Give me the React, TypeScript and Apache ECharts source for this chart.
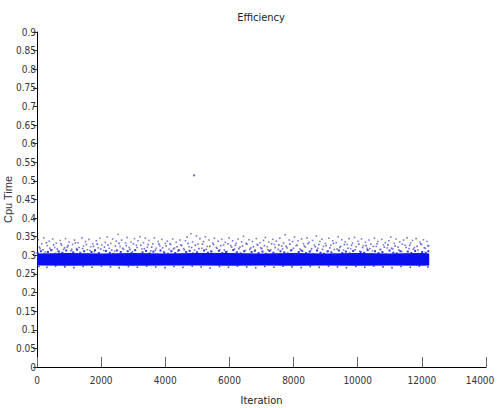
import React, { useEffect, useRef } from "react";
import * as echarts from "echarts";

const xTicks = [0, 2000, 4000, 6000, 8000, 10000, 12000, 14000];
const yTicks = [0, 0.05, 0.1, 0.15, 0.2, 0.25, 0.3, 0.35, 0.4, 0.45, 0.5, 0.55, 0.6, 0.65, 0.7, 0.75, 0.8, 0.85, 0.9];

// dense core band (bounds)
const bandX = [0, 1000, 2000, 3000, 4000, 5000, 6000, 7000, 8000, 9000, 10000, 11000, 12000, 12230];
const bandLow = [0.273, 0.272, 0.273, 0.272, 0.273, 0.273, 0.272, 0.273, 0.272, 0.273, 0.272, 0.273, 0.272, 0.273];
const bandHigh = [0.305, 0.306, 0.305, 0.306, 0.305, 0.306, 0.306, 0.305, 0.306, 0.305, 0.306, 0.305, 0.306, 0.305];

const upperPoints: [number, number][] = [
  [40,0.342],[95,0.318],[150,0.331],[210,0.347],[260,0.309],[320,0.326],[380,0.338],[430,0.314],[490,0.344],[550,0.321],
  [600,0.333],[660,0.311],[720,0.340],[770,0.327],[830,0.316],[890,0.345],[940,0.322],[1000,0.336],[1060,0.312],[1110,0.329],
  [1170,0.341],[1230,0.318],[1280,0.334],[1340,0.308],[1400,0.347],[1450,0.325],[1510,0.337],[1570,0.315],[1620,0.343],[1680,0.323],
  [1740,0.331],[1790,0.310],[1850,0.339],[1910,0.320],[1960,0.346],[2020,0.328],[2080,0.313],[2130,0.335],[2190,0.349],[2250,0.319],
  [2300,0.332],[2360,0.344],[2420,0.311],[2470,0.338],[2530,0.356],[2590,0.324],[2640,0.341],[2700,0.316],[2760,0.333],[2810,0.348],
  [2870,0.321],[2930,0.336],[2980,0.310],[3040,0.345],[3100,0.327],[3150,0.339],[3210,0.350],[3270,0.317],[3320,0.334],[3380,0.346],
  [3440,0.322],[3490,0.340],[3550,0.312],[3610,0.331],[3660,0.347],[3720,0.319],[3780,0.337],[3830,0.325],[3890,0.343],[3950,0.310],
  [4000,0.332],[4060,0.338],[4120,0.316],[4170,0.329],[4230,0.344],[4290,0.320],[4340,0.335],[4400,0.311],[4460,0.341],[4510,0.326],
  [4570,0.318],[4630,0.339],[4680,0.349],[4740,0.323],[4800,0.358],[4850,0.336],[4910,0.314],[4970,0.352],[5020,0.330],[5080,0.345],
  [5140,0.319],[5190,0.337],[5250,0.350],[5310,0.324],[5360,0.341],[5420,0.312],[5480,0.333],[5530,0.346],[5590,0.321],[5650,0.338],
  [5700,0.315],[5760,0.343],[5820,0.328],[5870,0.335],[5930,0.310],[5990,0.347],[6040,0.326],[6100,0.339],[6160,0.317],[6210,0.332],
  [6270,0.344],[6330,0.322],[6380,0.336],[6440,0.351],[6500,0.313],[6550,0.330],[6610,0.342],[6670,0.320],[6720,0.337],[6780,0.311],
  [6840,0.345],[6890,0.327],[6950,0.334],[7010,0.318],[7060,0.340],[7120,0.348],[7180,0.323],[7230,0.336],[7290,0.314],[7350,0.343],
  [7400,0.329],[7460,0.338],[7520,0.316],[7570,0.346],[7630,0.325],[7690,0.333],[7740,0.355],[7800,0.320],[7860,0.341],[7910,0.312],
  [7970,0.337],[8030,0.349],[8080,0.326],[8140,0.339],[8200,0.317],[8250,0.344],[8310,0.331],[8370,0.322],[8420,0.347],[8480,0.335],
  [8540,0.313],[8590,0.340],[8650,0.328],[8710,0.352],[8760,0.319],[8820,0.337],[8880,0.343],[8930,0.324],[8990,0.332],[9050,0.310],
  [9100,0.346],[9160,0.327],[9220,0.339],[9270,0.316],[9330,0.334],[9390,0.350],[9440,0.321],[9500,0.342],[9560,0.314],[9610,0.336],
  [9670,0.329],[9730,0.345],[9780,0.318],[9840,0.333],[9900,0.348],[9950,0.323],[10010,0.338],[10070,0.311],[10120,0.344],[10180,0.326],
  [10240,0.335],[10290,0.319],[10350,0.341],[10410,0.330],[10460,0.312],[10520,0.346],[10580,0.324],[10630,0.337],[10690,0.315],[10750,0.343],
  [10800,0.328],[10860,0.334],[10920,0.320],[10970,0.339],[11030,0.349],[11090,0.317],[11140,0.332],[11200,0.344],[11260,0.322],[11310,0.336],
  [11370,0.310],[11430,0.341],[11480,0.327],[11540,0.347],[11600,0.318],[11650,0.333],[11710,0.340],[11770,0.321],[11820,0.345],[11880,0.314],
  [11940,0.336],[11990,0.329],[12050,0.342],[12110,0.319],[12160,0.337],[12210,0.325],
];

const midPoints: [number, number][] = [
  [75,0.322],[188,0.315],[295,0.334],[402,0.319],[517,0.328],[633,0.317],[745,0.331],[858,0.320],[972,0.326],[1085,0.316],
  [1196,0.333],[1312,0.321],[1423,0.318],[1538,0.329],[1651,0.313],[1763,0.324],[1877,0.330],[1989,0.317],[2102,0.322],[2215,0.327],
  [2331,0.314],[2444,0.325],[2556,0.332],[2668,0.319],[2782,0.326],[2897,0.316],[3009,0.331],[3121,0.321],[3236,0.327],[3348,0.318],
  [3463,0.329],[3577,0.322],[3689,0.314],[3802,0.330],[3915,0.320],[4029,0.325],[4143,0.331],[4255,0.317],[4368,0.323],[4483,0.328],
  [4596,0.315],[4709,0.332],[4822,0.321],[4935,0.327],[5049,0.318],[5162,0.330],[5276,0.316],[5389,0.324],[5503,0.329],[5616,0.319],
  [5729,0.326],[5843,0.314],[5956,0.331],[6069,0.322],[6183,0.327],[6296,0.318],[6409,0.325],[6523,0.332],[6636,0.316],[6749,0.323],
  [6863,0.329],[6976,0.320],[7089,0.326],[7203,0.315],[7316,0.331],[7429,0.321],[7543,0.328],[7656,0.317],[7769,0.324],[7883,0.330],
  [7996,0.319],[8109,0.327],[8223,0.314],[8336,0.325],[8449,0.331],[8563,0.318],[8676,0.323],[8789,0.329],[8903,0.316],[9016,0.326],
  [9129,0.320],[9243,0.332],[9356,0.317],[9469,0.324],[9583,0.329],[9696,0.319],[9809,0.327],[9923,0.315],[10036,0.330],[10149,0.321],
  [10263,0.326],[10376,0.318],[10489,0.324],[10603,0.331],[10716,0.316],[10829,0.322],[10943,0.328],[11056,0.319],[11169,0.325],[11283,0.314],
  [11396,0.330],[11509,0.321],[11623,0.327],[11736,0.317],[11849,0.324],[11963,0.331],[12076,0.320],[12189,0.326],
];

const nearBandPoints: [number, number][] = [
  [20,0.306],[120,0.311],[230,0.303],[340,0.309],[450,0.314],[570,0.304],[680,0.310],[790,0.307],[910,0.313],[1020,0.302],
  [1130,0.308],[1250,0.315],[1360,0.305],[1470,0.311],[1590,0.303],[1700,0.309],[1810,0.314],[1930,0.306],[2040,0.301],[2150,0.312],
  [2270,0.307],[2380,0.304],[2490,0.313],[2610,0.309],[2720,0.302],[2830,0.311],[2950,0.306],[3060,0.314],[3170,0.303],[3290,0.308],
  [3400,0.312],[3510,0.305],[3630,0.310],[3740,0.302],[3850,0.313],[3970,0.307],[4080,0.304],[4190,0.311],[4310,0.306],[4420,0.314],
  [4530,0.303],[4650,0.309],[4760,0.312],[4870,0.305],[4990,0.308],[5100,0.302],[5210,0.313],[5330,0.307],[5440,0.310],[5550,0.304],
  [5670,0.312],[5780,0.306],[5890,0.309],[6010,0.303],[6120,0.314],[6230,0.308],[6350,0.305],[6460,0.311],[6570,0.302],[6690,0.309],
  [6800,0.313],[6910,0.306],[7030,0.310],[7140,0.304],[7250,0.312],[7370,0.307],[7480,0.303],[7590,0.311],[7710,0.308],[7820,0.305],
  [7930,0.314],[8050,0.302],[8160,0.309],[8270,0.312],[8390,0.306],[8500,0.310],[8610,0.303],[8730,0.313],[8840,0.307],[8950,0.304],
  [9070,0.311],[9180,0.308],[9290,0.302],[9410,0.313],[9520,0.306],[9630,0.310],[9750,0.305],[9860,0.312],[9970,0.303],[10090,0.309],
  [10200,0.307],[10310,0.314],[10430,0.304],[10540,0.311],[10650,0.306],[10770,0.309],[10880,0.302],[10990,0.313],[11110,0.307],[11220,0.305],
  [11330,0.311],[11450,0.303],[11560,0.310],[11670,0.306],[11790,0.312],[11900,0.304],[12010,0.309],[12120,0.307],[12200,0.311],
];

const lowerPoints: [number, number][] = [
  [60,0.270],[310,0.268],[580,0.271],[870,0.269],[1150,0.267],[1440,0.270],[1720,0.268],[2010,0.271],[2290,0.269],[2560,0.267],
  [2850,0.270],[3130,0.268],[3420,0.271],[3700,0.269],[3990,0.267],[4270,0.270],[4550,0.268],[4840,0.271],[5120,0.269],[5400,0.266],
  [5690,0.270],[5970,0.268],[6250,0.271],[6540,0.269],[6820,0.267],[7100,0.270],[7390,0.268],[7670,0.271],[7950,0.269],[8240,0.267],
  [8520,0.270],[8800,0.268],[9090,0.271],[9370,0.269],[9650,0.267],[9940,0.270],[10220,0.268],[10500,0.271],[10790,0.269],[11070,0.267],
  [11350,0.270],[11640,0.268],[11920,0.271],[12190,0.269],
];

const outlierPoints: [number, number][] = [[4900, 0.515]];

const FONT = "'DejaVu Sans Condensed', 'Liberation Sans', sans-serif";
const BLUE = "#0a0ff0";

export default function App() {
  const ref = useRef<HTMLDivElement>(null);
  useEffect(() => {
    if (!ref.current) return;
    const chart = echarts.init(ref.current, undefined, { renderer: "svg" });
    const dot = (data: [number, number][], color: string, size: number, opacity: number) => ({
      type: "scatter",
      data,
      symbol: "rect",
      symbolSize: size,
      itemStyle: { color, opacity },
      silent: true,
      z: 3,
    });
    const bandData = bandX.map((x, i) => [x, bandLow[i], bandHigh[i]]);
    chart.setOption({
      animation: false,
      backgroundColor: "#ffffff",
      title: {
        text: "Efficiency",
        left: 256,
        textAlign: "center",
        top: 7,
        textStyle: { fontFamily: FONT, fontSize: 11, fontWeight: "normal", color: "#222" },
      },
      grid: { left: 37, right: 12, top: 32, bottom: 41, outerBoundsMode: "none", containLabel: false },
      xAxis: {
        type: "value",
        min: 0,
        max: 14000,
        interval: 2000,
        name: "Iteration",
        nameLocation: "middle",
        nameGap: 28,
        nameMoveOverlap: false,
        nameTextStyle: { fontFamily: FONT, fontSize: 11, color: "#222" },
        axisLine: { show: true, lineStyle: { color: "#000", width: 1 } },
        axisTick: { show: true, inside: true, length: 10, lineStyle: { color: "#666" } },
        axisLabel: {
          fontFamily: FONT,
          fontSize: 10,
          color: "#333",
          margin: 8,
          formatter: (v: number) => (v === 14000 ? "{r|14000}" : xTicks.includes(v) ? String(v) : ""),
          rich: { r: { fontFamily: FONT, fontSize: 10, color: "#333", padding: [0, 12, 0, 0] } },
        },
        splitLine: { show: false },
      },
      yAxis: {
        type: "value",
        min: 0,
        max: 0.9,
        interval: 0.05,
        name: "Cpu Time",
        nameLocation: "middle",
        nameGap: 24,
        nameMoveOverlap: false,
        nameTextStyle: { fontFamily: "'Liberation Sans', sans-serif", fontSize: 11, color: "#333" },
        axisLine: { show: true, lineStyle: { color: "#000", width: 1 } },
        axisTick: { show: true, inside: false, length: 4, lineStyle: { color: "#333" } },
        axisLabel: {
          fontFamily: FONT,
          fontSize: 10,
          color: "#333",
          margin: 1,
          formatter: (v: number) => {
            const t = yTicks.find((y) => Math.abs(y - v) < 1e-9);
            return t === undefined ? "" : String(t);
          },
        },
        splitLine: { show: false },
      },
      series: [
        {
          type: "custom",
          data: bandData,
          silent: true,
          z: 2,
          renderItem: (params: any, api: any) => {
            if (params.dataIndex !== 0) return null;
            const top = bandData.map((d) => api.coord([d[0], d[2]]));
            const bottom = bandData.map((d) => api.coord([d[0], d[1]])).reverse();
            return {
              type: "polygon",
              shape: { points: top.concat(bottom) },
              style: { fill: BLUE },
            };
          },
        },
        dot(nearBandPoints, "#1a22e0", 2, 0.9),
        dot(midPoints, "#3a42c8", 1.6, 0.8),
        dot(upperPoints, "#4a52c0", 1.6, 0.75),
        dot(lowerPoints, "#1a22e0", 1.6, 0.8),
        dot(outlierPoints, "#3a42c8", 2, 0.8),
      ],
    });
    return () => chart.dispose();
  }, []);
  return <div ref={ref} style={{ width: 498, height: 408, position: "absolute", left: 0, top: 0 }} />;
}
